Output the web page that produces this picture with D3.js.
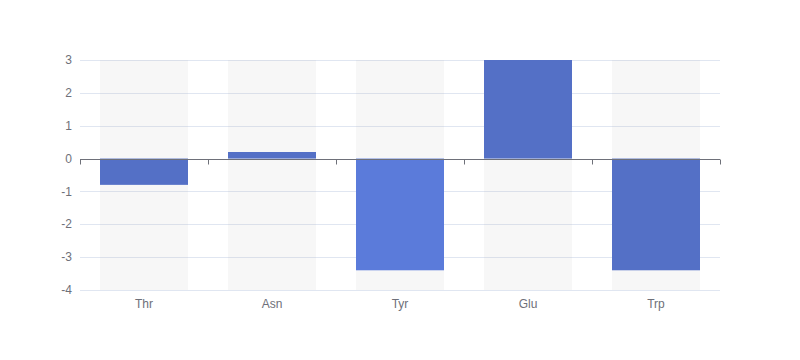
<!DOCTYPE html>
<html><head><meta charset="utf-8">
<script src="https://cdn.jsdelivr.net/npm/d3@7"></script>
<style>body{margin:0;background:#fff}</style>
</head><body>
<svg id="c" width="800" height="360"></svg>
<script>
const categories = ["Thr", "Asn", "Tyr", "Glu", "Trp"];
const values = [-0.8, 0.2, -3.4, 3, -3.4];
const yTicks = [-4, -3, -2, -1, 0, 1, 2, 3];
const highlighted = "Tyr";

const W = 800, H = 360;
const m = {left: 80, right: 80, top: 60, bottom: 70};
const svg = d3.select("#c");
const x = d3.scaleBand().domain(categories).range([m.left, W - m.right]).paddingInner(0).paddingOuter(0);
const y = d3.scaleLinear().domain([-4, 3]).range([H - m.bottom, m.top]);
const font = "'Microsoft YaHei', 'Liberation Sans', Arial, sans-serif";
const bw = x.bandwidth() * 0.6875;
const off = (x.bandwidth() - bw) / 2;

// grid lines
svg.append("g").selectAll("line").data(yTicks).join("line")
  .attr("x1", m.left).attr("x2", W - m.right)
  .attr("y1", d => Math.round(y(d)) + 0.5).attr("y2", d => Math.round(y(d)) + 0.5)
  .attr("stroke", "#E0E6F1");

// background bars
svg.append("g").selectAll("rect").data(categories).join("rect")
  .attr("x", d => x(d) + off).attr("width", bw)
  .attr("y", y(3)).attr("height", y(-4) - y(3))
  .attr("fill", "rgba(180,180,180,0.1)");

// bars
svg.append("g").selectAll("rect").data(categories.map((c, i) => ({c, v: values[i]}))).join("rect")
  .attr("x", d => x(d.c) + off).attr("width", bw)
  .attr("y", d => y(Math.max(0, d.v))).attr("height", d => Math.abs(y(d.v) - y(0)))
  .attr("fill", d => d.c === highlighted ? "#5b7bda" : "#5470c6");

// y labels
svg.append("g").selectAll("text").data(yTicks).join("text")
  .attr("x", m.left - 8).attr("y", d => y(d)).attr("dy", "0.35em")
  .attr("text-anchor", "end").attr("fill", "#6E7079")
  .attr("font-size", 12).attr("font-family", font).text(d => d);

// zero axis line with ticks
const zy = Math.round(y(0)) + 0.5;
const ax = svg.append("g");
ax.append("line").attr("x1", m.left).attr("x2", W - m.right).attr("y1", zy).attr("y2", zy)
  .attr("stroke", "#6E7079");
const bounds = categories.map(c => x(c)).concat([W - m.right]);
ax.selectAll(".tk").data(bounds).join("line")
  .attr("x1", d => Math.round(d) + 0.5).attr("x2", d => Math.round(d) + 0.5)
  .attr("y1", zy).attr("y2", zy + 5).attr("stroke", "#6E7079");

// x labels
svg.append("g").selectAll("text").data(categories).join("text")
  .attr("x", d => x(d) + x.bandwidth() / 2).attr("y", y(-4) + 8).attr("dy", "0.8em")
  .attr("text-anchor", "middle").attr("fill", "#6E7079")
  .attr("font-size", 12).attr("font-family", font).text(d => d);
</script>
</body></html>
